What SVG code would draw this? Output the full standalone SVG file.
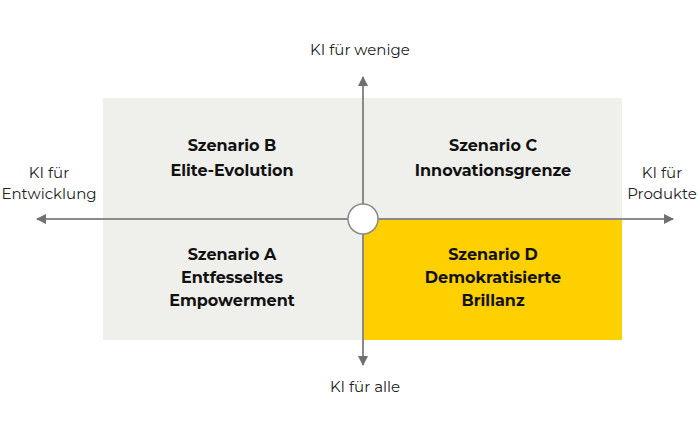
<svg xmlns="http://www.w3.org/2000/svg" width="700" height="437" viewBox="0 0 700 437">
<style>
text{font-family:Montserrat,"Open Sans","Liberation Sans",sans-serif;font-size:15px;text-anchor:middle;fill:#222}
.b{font-weight:bold;font-size:16px;fill:#111}
.ax{stroke:#8a8a8a;stroke-width:2}
</style>
<defs><marker id="ah" markerWidth="10" markerHeight="10" refX="9" refY="5" orient="auto" markerUnits="userSpaceOnUse"><path d="M0,0L10,5L0,10Z" fill="#707070"/></marker></defs>
<rect width="700" height="437" fill="#fff"/>
<g id="quadB"><rect x="103" y="98" width="260" height="121" fill="#efefec"/><text class="b" x="232" y="151">Szenario B</text><text class="b" x="232" y="176">Elite-Evolution</text></g>
<g id="quadC"><rect x="363" y="98" width="259" height="121" fill="#efefec"/><text class="b" x="493" y="151">Szenario C</text><text class="b" x="493" y="176">Innovationsgrenze</text></g>
<g id="quadA"><rect x="103" y="219" width="260" height="121" fill="#efefec"/><text class="b" x="232" y="260">Szenario A</text><text class="b" x="232" y="283">Entfesseltes</text><text class="b" x="232" y="306">Empowerment</text></g>
<g id="quadD"><rect x="363" y="219" width="259" height="121" fill="#fed000"/><text class="b" x="493" y="260">Szenario D</text><text class="b" x="493" y="283">Demokratisierte</text><text class="b" x="493" y="306">Brillanz</text></g>
<g id="connectors">
<line class="ax" x1="363" y1="365" x2="363" y2="77" marker-end="url(#ah)"/>
<line class="ax" x1="363" y1="219" x2="363" y2="365" marker-end="url(#ah)"/>
<line class="ax" x1="363" y1="219" x2="673" y2="219" marker-end="url(#ah)"/>
<line class="ax" x1="363" y1="219" x2="37" y2="219" marker-end="url(#ah)"/>
</g>
<g id="center"><circle cx="363" cy="219" r="15" fill="#fff" stroke="#8a8a8a" stroke-width="1.5"/></g>
<g id="labels">
<text x="360" y="55">KI für wenige</text>
<text x="365" y="392">KI für alle</text>
<text x="49" y="178">KI für</text><text x="49" y="199">Entwicklung</text>
<text x="662" y="178">KI für</text><text x="662" y="199">Produkte</text>
</g>
</svg>
